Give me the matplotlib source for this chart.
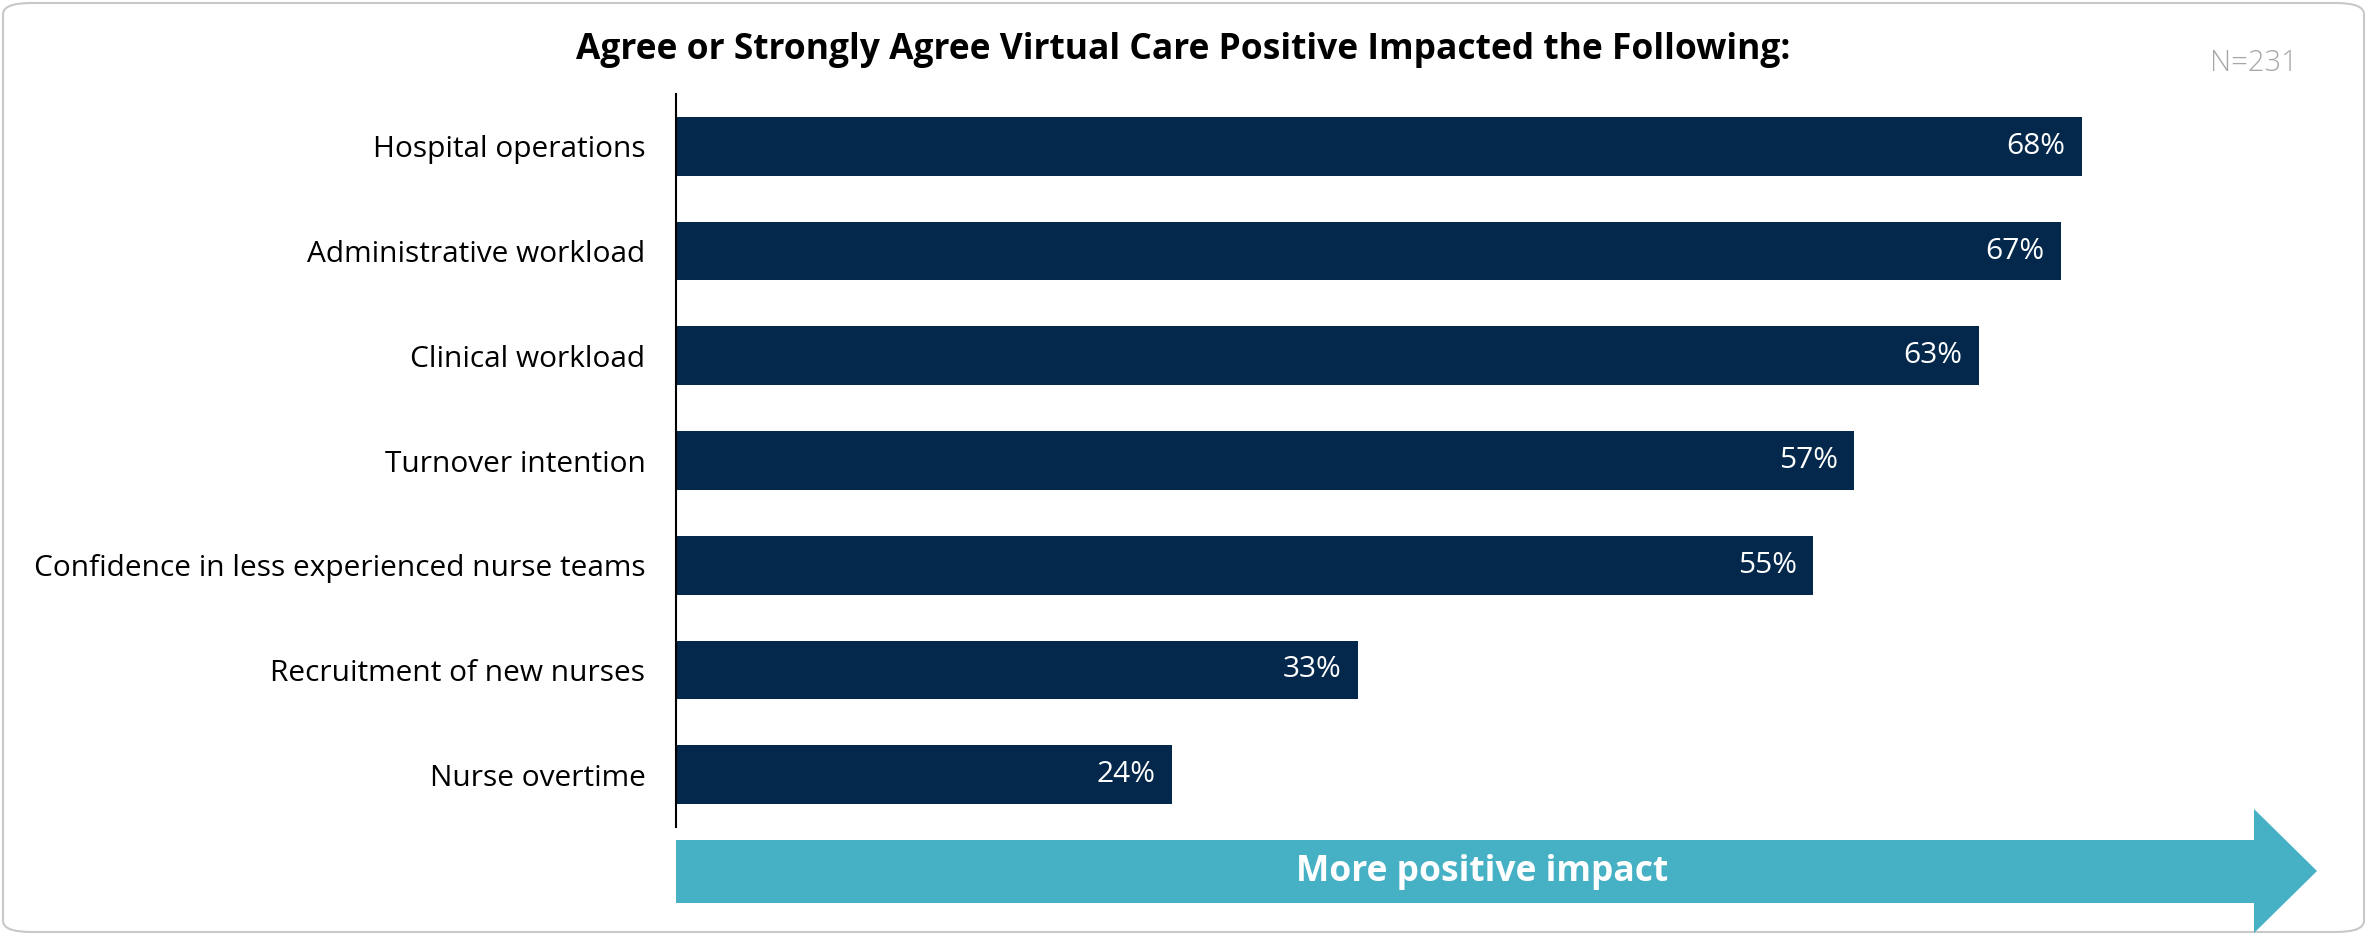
import matplotlib.pyplot as plt
from matplotlib.patches import Polygon, FancyBboxPatch

plt.rcParams['font.family'] = ['Open Sans', 'DejaVu Sans']

categories = ["Hospital operations", "Administrative workload", "Clinical workload",
              "Turnover intention", "Confidence in less experienced nurse teams",
              "Recruitment of new nurses", "Nurse overtime"]
values = [68, 67, 63, 57, 55, 33, 24]
title = "Agree or Strongly Agree Virtual Care Positive Impacted the Following:"
n_label = "N=231"
arrow_label = "More positive impact"

W, H = 2367, 935
fig = plt.figure(figsize=(W / 100, H / 100), dpi=100)

# rounded border round the whole picture
border = FancyBboxPatch((3 / W, 3 / H), 1 - 6 / W, 1 - 6 / H,
                        boxstyle="round,pad=0,rounding_size=0.012",
                        transform=fig.transFigure, facecolor='none',
                        edgecolor='#c8c8c8', linewidth=1.5, zorder=-1)
fig.patches.append(border)

ax = fig.add_axes([676 / W, 108 / H, 1654 / W, 733 / H])
ax.set_facecolor('none')
y = list(range(len(categories)))
bars = ax.barh(y, values, height=0.56, color='#03284c')
for b, v in zip(bars, values):
    ax.text(v - 0.8, b.get_y() + b.get_height() / 2, f"{v}%", color='white',
            ha='right', va='center', fontsize=21.5)

ax.set_yticks(y)
ax.set_yticklabels(categories, fontsize=21.5)
ax.tick_params(axis='y', length=0, pad=22)
ax.set_ylim(len(categories) - 0.5, -0.5)
ax.set_xlim(0, 80)
ax.set_xticks([])
for s in ['top', 'right', 'bottom']:
    ax.spines[s].set_visible(False)
ax.spines['left'].set_linewidth(1.5)

fig.text(0.5, 1 - 50 / H, title, ha='center', va='center',
         fontsize=25.5, fontweight='bold')
fig.text(2298 / W, 1 - 63 / H, n_label, ha='right', va='center',
         fontsize=21, color='#a6a6a6', fontweight='light')

# big arrow under the bars
pts = [(676, 840), (2254, 840), (2254, 809), (2317, 871),
       (2254, 933), (2254, 903), (676, 903)]
arrow = Polygon([(px / W, 1 - py / H) for px, py in pts], closed=True,
                transform=fig.transFigure, facecolor='#46b0c5',
                edgecolor='none', zorder=2)
fig.patches.append(arrow)
fig.text(1482 / W, 1 - 872 / H, arrow_label, ha='center', va='center',
         fontsize=25.5, fontweight='bold', color='white', zorder=3)

fig.savefig('out.png', dpi=100)
